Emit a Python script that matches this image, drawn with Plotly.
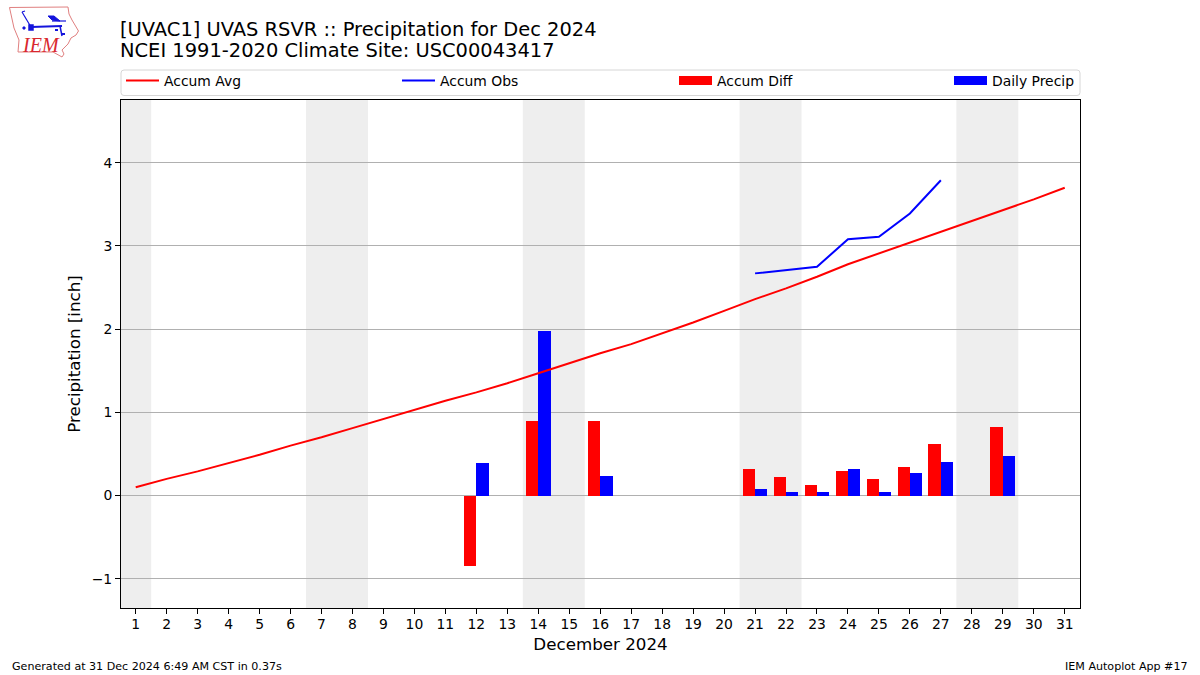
import plotly.graph_objects as go

days = list(range(1, 32))
accum_avg = [0.10, 0.20, 0.29, 0.39, 0.49, 0.60, 0.70, 0.81, 0.92, 1.03, 1.14, 1.24, 1.35, 1.47, 1.59, 1.71,
             1.82, 1.95, 2.08, 2.22, 2.36, 2.49, 2.63, 2.78, 2.91, 3.04, 3.17, 3.30, 3.43, 3.56, 3.70]
obs_days = [21, 22, 23, 24, 25, 26, 27]
accum_obs = [2.67, 2.71, 2.75, 3.08, 3.11, 3.39, 3.79]
bar_days = [12, 14, 16, 21, 22, 23, 24, 25, 26, 27, 29]
accum_diff = [-0.85, 0.90, 0.89, 0.32, 0.22, 0.13, 0.29, 0.20, 0.34, 0.62, 0.82]
daily_precip = [0.39, 1.98, 0.23, 0.08, 0.04, 0.04, 0.32, 0.04, 0.27, 0.40, 0.47]
weekends = [(0.5, 1.5), (6.5, 8.5), (13.5, 15.5), (20.5, 22.5), (27.5, 29.5)]
y_ticks = [-1, 0, 1, 2, 3, 4]
y_tick_labels = ["\u22121", "0", "1", "2", "3", "4"]

FONT = "DejaVu Sans"
L, R, T, B = 121, 1080, 100, 608
W, H = R - L, B - T


def px(x, y):
    return (x - L) / W, (B - y) / H


def path(points, close=False):
    parts = []
    for i, (x, y) in enumerate(points):
        a, b = px(x, y)
        parts.append(f"{'M' if i == 0 else 'L'}{a:.5f},{b:.5f}")
    return " ".join(parts) + (" Z" if close else "")


def logo_line(points, color="#1414dc", width=1.5, fill=None, close=False):
    return dict(type="path", xref="paper", yref="paper", path=path(points, close),
                line=dict(color=color, width=width), fillcolor=fill, layer="above")


fig = go.Figure()
fig.add_trace(go.Scatter(x=days, y=accum_avg, mode="lines", name="Accum Avg", legend="legend",
                         line=dict(color="#ff0000", width=2)))
fig.add_trace(go.Scatter(x=obs_days, y=accum_obs, mode="lines", name="Accum Obs", legend="legend2",
                         line=dict(color="#0000ff", width=2)))
fig.add_trace(go.Bar(x=bar_days, y=accum_diff, name="Accum Diff", width=0.4, offset=-0.4,
                     marker=dict(color="#ff0000", line=dict(width=0)), showlegend=False))
fig.add_trace(go.Bar(x=bar_days, y=daily_precip, name="Daily Precip", width=0.4, offset=0,
                     marker=dict(color="#0000ff", line=dict(width=0)), showlegend=False))
fig.add_trace(go.Scatter(x=[None], y=[None], mode="lines", name="Accum Diff", legend="legend3",
                         line=dict(color="#ff0000", width=9)))
fig.add_trace(go.Scatter(x=[None], y=[None], mode="lines", name="Daily Precip", legend="legend4",
                         line=dict(color="#0000ff", width=9)))

shapes = []
for a, b in weekends:
    shapes.append(dict(type="rect", xref="x", yref="paper", x0=a, x1=b, y0=0, y1=1,
                       fillcolor="#eeeeee", line=dict(width=0), layer="below"))

# rounded legend frame
x0, x1, y0, y1, r = 121, 1080, 70, 95.5, 3
a0, b0 = px(x0, y0)
a1, b1 = px(x1, y1)
ra, rb = r / W, r / H
shapes.append(dict(type="path", xref="paper", yref="paper", layer="below",
                   line=dict(color="#d6d6d6", width=1), fillcolor="white",
                   path=(f"M{a0 + ra},{b0} L{a1 - ra},{b0} Q{a1},{b0} {a1},{b0 - rb} L{a1},{b1 + rb} "
                         f"Q{a1},{b1} {a1 - ra},{b1} L{a0 + ra},{b1} Q{a0},{b1} {a0},{b1 + rb} "
                         f"L{a0},{b0 - rb} Q{a0},{b0} {a0 + ra},{b0} Z")))

# IEM logo
shapes.append(logo_line([(9.5, 7.5), (68, 7), (69, 14), (72, 20), (78.5, 31), (76, 35), (71, 38), (68, 44),
                         (62, 50), (64, 54), (62, 57), (53, 52), (18, 52), (19, 40), (14, 28)],
                        color="#e07f7f", width=1, close=True))
shapes.append(logo_line([(31, 27), (62, 26)], width=2))
shapes.append(logo_line([(22, 12), (31, 27)], width=1.2))
shapes.append(logo_line([(22, 12), (25, 11)], width=1.2))
shapes.append(logo_line([(48, 16), (54, 16), (60, 21), (52, 20)], width=1, fill="#1414dc", close=True))
shapes.append(logo_line([(52, 21), (66, 21)], width=1.2))
shapes.append(logo_line([(60, 26), (62, 36)], width=1.5))
shapes.append(logo_line([(55, 30), (58, 30)], width=2))
shapes.append(logo_line([(62, 34), (65, 34)], width=2))
shapes.append(logo_line([(29, 25), (33, 25), (33, 30), (29, 30)], width=1.5, fill="#1414dc", close=True))
shapes.append(logo_line([(23, 27), (25, 27), (25, 29), (23, 29)], width=1, fill="#1414dc", close=True))

annotations = []
def text(x, y, s, size, anchor="left", color="black", family=FONT):
    a, b = px(x, y)
    annotations.append(dict(x=a, y=b, xref="paper", yref="paper", text=s, showarrow=False,
                            xanchor=anchor, yanchor="middle", align=anchor,
                            font=dict(family=family, size=size, color=color)))

text(118, 29, "[UVAC1] UVAS RSVR :: Precipitation for Dec 2024", 19.44)
text(118, 50.5, "NCEI 1991-2020 Climate Site: USC00043417", 19.44)
text(10, 666.5, "Generated at 31 Dec 2024 6:49 AM CST in 0.37s", 11.1)
text(1190, 666.5, "IEM Autoplot App #17", 11.1, anchor="right")
text(20, 45, "<i>IEM</i>", 20, color="#d9272e", family="Liberation Serif")


def legend_at(x):
    return dict(orientation="h", x=px(x, 0)[0], xanchor="left", y=px(0, 81)[1], yanchor="middle",
                itemwidth=33, bgcolor="rgba(0,0,0,0)", font=dict(family=FONT, size=13.9))


fig.update_layout(
    width=1200, height=675, autosize=False,
    margin=dict(l=L, r=1200 - R, t=T, b=675 - B, pad=0),
    paper_bgcolor="white", plot_bgcolor="white",
    font=dict(family=FONT, size=13.9, color="black"),
    barmode="overlay", bargap=0,
    shapes=shapes, annotations=annotations,
    legend=legend_at(121), legend2=legend_at(397), legend3=legend_at(674), legend4=legend_at(949),
    xaxis=dict(range=[0.525, 31.493], tickmode="array", tickvals=days, ticktext=[str(d) for d in days],
               ticks="outside", ticklen=5, tickwidth=1, tickcolor="black", showgrid=False, zeroline=False,
               showline=True, linecolor="black", linewidth=1, mirror=True, ticklabelstandoff=-2,
               title=dict(text="December 2024", font=dict(size=16.7), standoff=7), tickangle=0),
    yaxis=dict(range=[-1.352, 4.754], tickmode="array", tickvals=y_ticks, ticktext=y_tick_labels,
               ticks="outside", ticklen=5, tickwidth=1, tickcolor="black", showgrid=True,
               gridcolor="#b0b0b0", gridwidth=1, zeroline=False,
               showline=True, linecolor="black", linewidth=1, mirror=True,
               title=dict(text="Precipitation [inch]", font=dict(size=16.7), standoff=6)),
)
fig.write_html("out.html", post_script="document.body.style.margin='0';",
               config={"displayModeBar": False})
